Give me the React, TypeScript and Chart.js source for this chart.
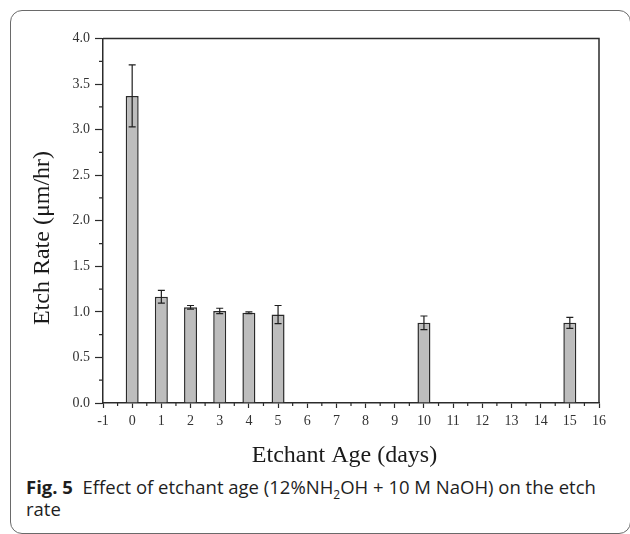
import React, { useEffect, useRef } from "react";
import { Chart, registerables } from "chart.js";

Chart.register(...registerables);

const ages = [0, 1, 2, 3, 4, 5, 10, 15];
const rates = [3.37, 1.165, 1.05, 1.01, 0.99, 0.97, 0.88, 0.88];
const errors = [0.34, 0.07, 0.02, 0.03, 0.01, 0.1, 0.075, 0.06];
const xMin = -1;
const xMax = 16;
const yMin = 0;
const yMax = 4;
const yTitle = "Etch Rate (\u03bcm/hr)";
const xTitle = "Etchant Age (days)";

const axisColor = "#2b2b2b";

const decorPlugin = {
  id: "decor",
  afterDatasetsDraw(chart: any) {
    const { ctx, chartArea } = chart;
    const xs = chart.scales.x;
    const ys = chart.scales.y;
    ctx.save();
    // error bars
    ctx.strokeStyle = "#1e1e1e";
    ctx.lineWidth = 1.2;
    ages.forEach((a, i) => {
      const px = xs.getPixelForValue(a);
      const yTop = ys.getPixelForValue(rates[i] + errors[i]);
      const yBot = ys.getPixelForValue(rates[i] - errors[i]);
      ctx.beginPath();
      ctx.moveTo(px, yTop);
      ctx.lineTo(px, yBot);
      ctx.moveTo(px - 3.5, yTop);
      ctx.lineTo(px + 3.5, yTop);
      ctx.moveTo(px - 3.5, yBot);
      ctx.lineTo(px + 3.5, yBot);
      ctx.stroke();
    });
    // top and right frame
    ctx.strokeStyle = axisColor;
    ctx.lineWidth = 1.5;
    ctx.beginPath();
    ctx.moveTo(chartArea.left, chartArea.top);
    ctx.lineTo(chartArea.right, chartArea.top);
    ctx.lineTo(chartArea.right, chartArea.bottom);
    ctx.stroke();
    // minor ticks
    ctx.lineWidth = 1.2;
    ctx.beginPath();
    for (let v = yMin + 0.25; v < yMax; v += 0.5) {
      const py = ys.getPixelForValue(v);
      ctx.moveTo(chartArea.left, py);
      ctx.lineTo(chartArea.left - 4, py);
    }
    for (let v = xMin + 0.5; v < xMax; v += 1) {
      const px = xs.getPixelForValue(v);
      ctx.moveTo(px, chartArea.bottom);
      ctx.lineTo(px, chartArea.bottom + 3);
    }
    ctx.stroke();
    // axis titles
    ctx.fillStyle = "#1a1a1a";
    ctx.font = '24px "Liberation Serif"';
    ctx.textAlign = "center";
    ctx.textBaseline = "middle";
    ctx.fillText(xTitle, chartArea.left + 241.5, chartArea.bottom + 53);
    ctx.translate(43, chartArea.top + 199.5);
    ctx.rotate(-Math.PI / 2);
    ctx.fillText(yTitle, 0, 0);
    ctx.restore();
  },
};

export default function App() {
  const ref = useRef<HTMLCanvasElement>(null);
  useEffect(() => {
    if (!ref.current) return;
    const chart = new Chart(ref.current, {
      type: "bar",
      data: {
        datasets: [
          {
            data: ages.map((a, i) => ({ x: a, y: rates[i] })),
            backgroundColor: "#bdbdbd",
            borderColor: "#2a2a2a",
            borderWidth: 1.5,
            barPercentage: 0.445,
            categoryPercentage: 1,
          },
        ],
      },
      options: {
        responsive: false,
        animation: false,
        layout: { padding: { left: 0, right: 31, top: 38.5, bottom: 0 } },
        plugins: { legend: { display: false }, tooltip: { enabled: false } },
        scales: {
          x: {
            type: "linear",
            min: xMin,
            max: xMax,
            offset: false,
            grid: {
              offset: false,
              drawOnChartArea: false,
              drawTicks: true,
              tickLength: 5,
              tickColor: axisColor,
              tickWidth: 1.2,
            },
            border: { display: true, color: axisColor, width: 1.5 },
            ticks: {
              stepSize: 1,
              autoSkip: false,
              maxRotation: 0,
              padding: 5,
              color: "#333",
              font: { family: '"Liberation Serif"', size: 14 },
            },
            afterFit: (s: any) => {
              s.height = 67;
            },
          },
          y: {
            min: yMin,
            max: yMax,
            grid: {
              drawOnChartArea: false,
              drawTicks: true,
              tickLength: 8,
              tickColor: axisColor,
              tickWidth: 1.2,
            },
            border: { display: true, color: axisColor, width: 1.5 },
            ticks: {
              stepSize: 0.5,
              padding: 5,
              color: "#333",
              font: { family: '"Liberation Serif"', size: 14 },
              callback: (v: any) => Number(v).toFixed(1),
            },
            afterFit: (s: any) => {
              s.width = 103;
            },
          },
        },
      },
      plugins: [decorPlugin],
    });
    return () => chart.destroy();
  }, []);

  return (
    <div style={{ position: "absolute", left: 0, top: 0, width: 630, height: 534, overflow: "hidden", background: "#fff" }}>
      <div
        style={{
          position: "absolute",
          left: 10,
          top: 10,
          width: 621,
          height: 524,
          border: "1.5px solid #6a6a6a",
          borderRadius: 12,
          boxSizing: "border-box",
        }}
      />
      <canvas ref={ref} width={630} height={470} style={{ position: "absolute", left: 0, top: 0, display: "block" }} />
      <div
        style={{
          position: "absolute",
          left: 26,
          top: 476,
          width: 600,
          fontFamily: '"Open Sans", sans-serif',
          fontSize: 18.5,
          lineHeight: "22px",
          color: "#1e1e1e",
          whiteSpace: "nowrap",
        }}
      >
        <b>Fig. 5</b>&nbsp;&nbsp;Effect of etchant age (12%NH<sub style={{ fontSize: 12, lineHeight: 0 }}>2</sub>OH + 10 M NaOH) on the etch
        <br />
        rate
      </div>
    </div>
  );
}
